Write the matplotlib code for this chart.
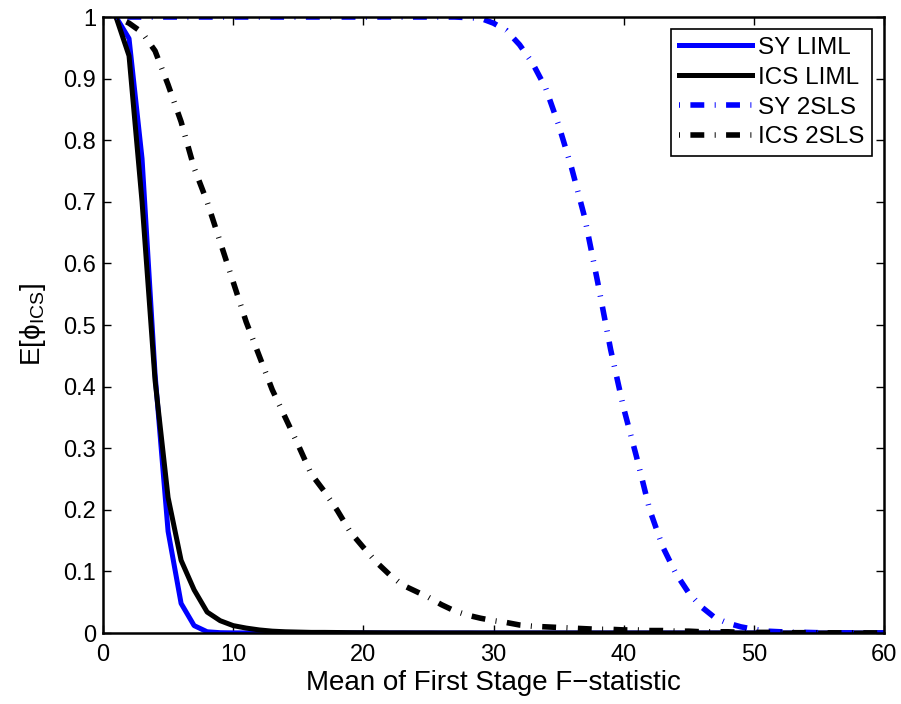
import numpy as np
import matplotlib
matplotlib.use("Agg")
import matplotlib.pyplot as plt

# ---- datos (E[phi_ICS] vs media del F de primera etapa) ----
F_MEAN = list(range(1, 61))

SY_LIML = [1.0, 0.965, 0.77, 0.42, 0.165, 0.048, 0.012, 0.002, 0.0005, 0.0002,
           0.0001, 0.0, 0.0, 0.0, 0.0, 0.0, 0.0, 0.0, 0.0, 0.0,
           0.0, 0.0, 0.0, 0.0, 0.0, 0.0, 0.0, 0.0, 0.0, 0.0,
           0.0, 0.0, 0.0, 0.0, 0.0, 0.0, 0.0, 0.0, 0.0, 0.0,
           0.0, 0.0, 0.0, 0.0, 0.0, 0.0, 0.0, 0.0, 0.0, 0.0,
           0.0, 0.0, 0.0, 0.0, 0.0, 0.0, 0.0, 0.0, 0.0, 0.0]

ICS_LIML = [1.0, 0.937, 0.70, 0.41, 0.22, 0.118, 0.07, 0.034, 0.02, 0.012,
            0.008, 0.005, 0.003, 0.002, 0.0015, 0.001, 0.001, 0.0008, 0.0006, 0.0005,
            0.0004, 0.0003, 0.0003, 0.0002, 0.0002, 0.0001, 0.0001, 0.0001, 0.0, 0.0,
            0.0, 0.0, 0.0, 0.0, 0.0, 0.0, 0.0, 0.0, 0.0, 0.0,
            0.0, 0.0, 0.0, 0.0, 0.0, 0.0, 0.0, 0.0, 0.0, 0.0,
            0.0, 0.0, 0.0, 0.0, 0.0, 0.0, 0.0, 0.0, 0.0, 0.0]

SY_2SLS = [1.0, 1.0, 1.0, 1.0, 1.0, 1.0, 1.0, 1.0, 1.0, 1.0,
           1.0, 1.0, 1.0, 1.0, 1.0, 1.0, 1.0, 1.0, 1.0, 1.0,
           1.0, 1.0, 1.0, 1.0, 1.0, 1.0, 1.0, 0.999, 0.998, 0.99,
           0.978, 0.955, 0.925, 0.885, 0.825, 0.755, 0.675, 0.57, 0.46, 0.365,
           0.285, 0.20, 0.14, 0.097, 0.065, 0.042, 0.025, 0.016, 0.01, 0.006,
           0.003, 0.002, 0.001, 0.001, 0.0005, 0.0003, 0.0002, 0.0001, 0.0, 0.0]

ICS_2SLS = [1.0, 0.99, 0.975, 0.945, 0.89, 0.83, 0.755, 0.70, 0.635, 0.57,
            0.505, 0.45, 0.395, 0.35, 0.305, 0.258, 0.23, 0.199, 0.164, 0.139,
            0.115, 0.095, 0.078, 0.068, 0.058, 0.046, 0.036, 0.029, 0.024, 0.02,
            0.017, 0.013, 0.011, 0.010, 0.009, 0.008, 0.007, 0.006, 0.006, 0.005,
            0.005, 0.004, 0.004, 0.003, 0.003, 0.002, 0.002, 0.002, 0.001, 0.001,
            0.001, 0.001, 0.0005, 0.0005, 0.0003, 0.0003, 0.0002, 0.0002, 0.0001, 0.0]

LABELS = ["SY LIML", "ICS LIML", "SY 2SLS", "ICS 2SLS"]
XTICKS = [0, 10, 20, 30, 40, 50, 60]
YTICKS = [0, 0.1, 0.2, 0.3, 0.4, 0.5, 0.6, 0.7, 0.8, 0.9, 1]
YTICKLABELS = ["0", "0.1", "0.2", "0.3", "0.4", "0.5", "0.6", "0.7", "0.8", "0.9", "1"]

# ---- estilo tipo MATLAB ----
plt.rcParams["font.family"] = ["Liberation Sans", "DejaVu Sans"]
plt.rcParams["mathtext.fontset"] = "custom"
plt.rcParams["mathtext.rm"] = "Liberation Sans"
plt.rcParams["lines.scale_dashes"] = False

BLUE = (0, 0, 1)
LW = 3.6
# "-." exportado de MATLAB: punto = trazo cortito (se ve fino y transversal), raya gruesa
DASHDOT = (0, (0.7, 7.5, 10, 7.5))

fig = plt.figure(figsize=(9.01, 7.04), dpi=100)
ax = fig.add_axes([103 / 901, 71 / 704, 781 / 901, 616 / 704])

l1, = ax.plot(F_MEAN, SY_LIML, color=BLUE, lw=LW)
l2, = ax.plot(F_MEAN, ICS_LIML, color="black", lw=LW)
l3, = ax.plot(F_MEAN, SY_2SLS, color=BLUE, lw=LW + 0.4, linestyle=DASHDOT,
              dash_capstyle="butt")
l4, = ax.plot(F_MEAN, ICS_2SLS, color="black", lw=LW + 0.4, linestyle=DASHDOT,
              dash_capstyle="butt")

ax.set_xlim(0, 60)
ax.set_ylim(0, 1)
ax.set_xticks(XTICKS)
ax.set_yticks(YTICKS)
ax.set_yticklabels(YTICKLABELS)
ax.tick_params(direction="in", length=6, width=1, labelsize=17,
               top=True, right=True)
ax.tick_params(axis="x", pad=8)
ax.tick_params(axis="y", pad=5)
for s in ax.spines.values():
    s.set_linewidth(1.8)

ax.set_xlabel("Mean of First Stage F\u2212statistic", fontsize=20, labelpad=3)
ax.set_ylabel("E[\u03d5$_{\\mathrm{ICS}}$]", fontsize=20, labelpad=11)

leg = ax.legend([l1, l2, l3, l4], LABELS, loc="upper right",
                bbox_to_anchor=(1, 1), borderaxespad=0.5, fontsize=17.5,
                handlelength=3.0, handletextpad=0.25, labelspacing=0.32,
                borderpad=0.32, fancybox=False, framealpha=1)
leg.get_frame().set_edgecolor("black")
leg.get_frame().set_linewidth(1.2)

fig.savefig("out.png", dpi=100)
